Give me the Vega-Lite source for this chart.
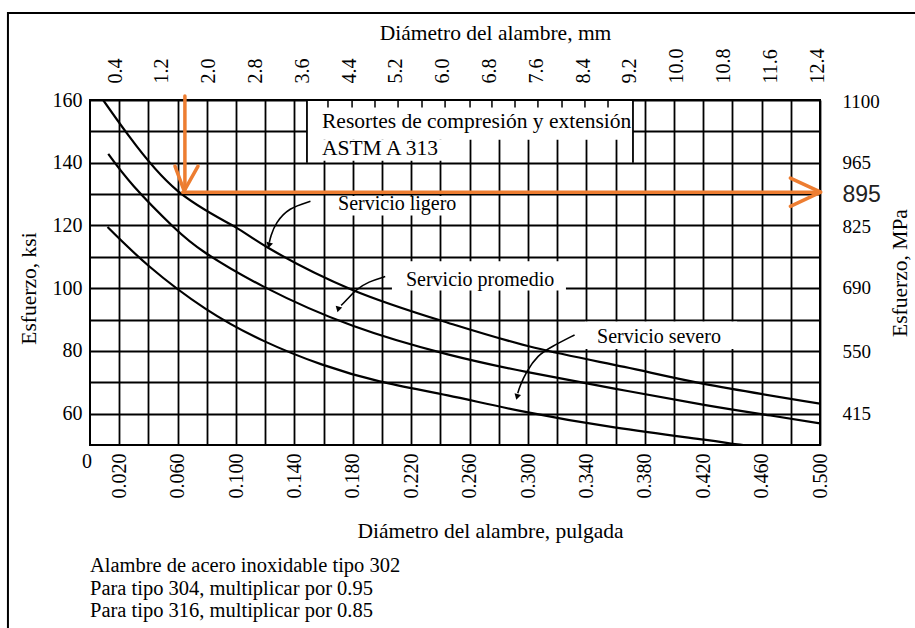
{
  "$schema": "https://vega.github.io/schema/vega-lite/v6.json",
  "width": 730,
  "height": 345,
  "autosize": {"type": "none"},
  "padding": {"left": 90, "top": 100, "right": 95, "bottom": 183},
  "background": "white",
  "config": {
    "view": {"stroke": "#000", "strokeWidth": 2},
    "font": "Liberation Serif",
    "axis": {
      "labelFont": "Liberation Serif",
      "titleFont": "Liberation Serif",
      "labelColor": "#000",
      "titleColor": "#000",
      "titleFontWeight": "normal",
      "labelFontSize": 20,
      "titleFontSize": 21.5,
      "ticks": false,
      "domain": false
    }
  },
  "resolve": {"scale": {"x": "independent", "y": "independent"}, "axis": {"x": "independent", "y": "independent"}},
  "layer": [
    {
      "layer": [
        {
          "data": {"values": [
            {"s": "ligero", "d": 0.009, "k": 160},
            {"s": "ligero", "d": 0.027, "k": 148.3},
            {"s": "ligero", "d": 0.0598, "k": 131.1},
            {"s": "ligero", "d": 0.0984, "k": 119.8},
            {"s": "ligero", "d": 0.1223, "k": 112.8},
            {"s": "ligero", "d": 0.179, "k": 99.6},
            {"s": "ligero", "d": 0.245, "k": 89.0},
            {"s": "ligero", "d": 0.3046, "k": 81.0},
            {"s": "ligero", "d": 0.366, "k": 74.9},
            {"s": "ligero", "d": 0.4206, "k": 69.5},
            {"s": "ligero", "d": 0.5, "k": 63.2},
            {"s": "promedio", "d": 0.0125, "k": 142.8},
            {"s": "promedio", "d": 0.03, "k": 132.5},
            {"s": "promedio", "d": 0.057, "k": 119.6},
            {"s": "promedio", "d": 0.079, "k": 111.3},
            {"s": "promedio", "d": 0.1189, "k": 100.5},
            {"s": "promedio", "d": 0.18, "k": 88.0},
            {"s": "promedio", "d": 0.245, "k": 78.9},
            {"s": "promedio", "d": 0.2989, "k": 73.3},
            {"s": "promedio", "d": 0.3592, "k": 68.0},
            {"s": "promedio", "d": 0.4206, "k": 62.8},
            {"s": "promedio", "d": 0.4661, "k": 59.4},
            {"s": "promedio", "d": 0.5, "k": 56.9},
            {"s": "severo", "d": 0.012, "k": 119.5},
            {"s": "severo", "d": 0.0405, "k": 107.0},
            {"s": "severo", "d": 0.079, "k": 93.5},
            {"s": "severo", "d": 0.1189, "k": 83.2},
            {"s": "severo", "d": 0.1586, "k": 75.7},
            {"s": "severo", "d": 0.1984, "k": 70.3},
            {"s": "severo", "d": 0.245, "k": 65.8},
            {"s": "severo", "d": 0.2955, "k": 60.8},
            {"s": "severo", "d": 0.3592, "k": 55.6},
            {"s": "severo", "d": 0.4206, "k": 51.7},
            {"s": "severo", "d": 0.4434, "k": 50.2},
            {"s": "severo", "d": 0.47, "k": 48.8}
          ]},
          "mark": {"type": "line", "clip": true, "interpolate": "natural", "strokeWidth": 2.2, "color": "#000"},
          "encoding": {
            "x": {
              "field": "d", "type": "quantitative",
              "scale": {"domain": [0, 0.5], "nice": false, "zero": false},
              "axis": {
                "orient": "bottom",
                "values": [0.02, 0.04, 0.06, 0.08, 0.1, 0.12, 0.14, 0.16, 0.18, 0.2, 0.22, 0.24, 0.26, 0.28, 0.3, 0.32, 0.34, 0.36, 0.38, 0.4, 0.42, 0.44, 0.46, 0.48, 0.5],
                "tickCount": 100,
                "labelExpr": "(round(datum.value*1000) % 40 == 20) ? format(datum.value, '.3f') : ''",
                "labelAngle": 270,
                "labelAlign": "right",
                "labelBaseline": "middle",
                "labelPadding": 8,
                "labelOverlap": false,
                "labelFlush": false,
                "grid": true,
                "gridColor": "#000",
                "gridWidth": 1.8,
                "title": "Diámetro del alambre, pulgada",
                "titlePadding": 22,
                "titleX": 400
              }
            },
            "y": {
              "field": "k", "type": "quantitative",
              "scale": {"domain": [50, 160], "nice": false, "zero": false},
              "axis": {
                "orient": "left",
                "values": [60, 70, 80, 90, 100, 110, 120, 130, 140, 150, 160],
                "tickCount": 100,
                "labelExpr": "(datum.value % 20 == 0) ? format(datum.value, 'd') : ''",
                "labelPadding": 8,
                "labelOverlap": false,
                "labelFlush": false,
                "grid": true,
                "gridColor": "#000",
                "gridWidth": 1.8,
                "title": "Esfuerzo, ksi",
                "titlePadding": 12,
                "titleY": 188
              }
            },
            "detail": {"field": "s"}
          }
        },
        {
          "data": {"values": [
            {"x1": 0.1486, "x2": 0.3719, "y1": 159.7, "y2": 147.3},
            {"x1": 0.1486, "x2": 0.2418, "y1": 147.3, "y2": 140.6},
            {"x1": 0.1644, "x2": 0.2548, "y1": 129.4, "y2": 123.2},
            {"x1": 0.2068, "x2": 0.326, "y1": 108.6, "y2": 99.3},
            {"x1": 0.339, "x2": 0.4432, "y1": 89.4, "y2": 80.6}
          ]},
          "mark": {"type": "rect", "fill": "white", "stroke": null},
          "encoding": {
            "x": {"field": "x1", "type": "quantitative"},
            "x2": {"field": "x2"},
            "y": {"field": "y1", "type": "quantitative"},
            "y2": {"field": "y2"}
          }
        },
        {
          "data": {"values": [
            {"d": 0.163}, {"d": 0.1795}, {"d": 0.1952}, {"d": 0.211}, {"d": 0.2274}, {"d": 0.2432}, {"d": 0.2603},
            {"d": 0.2753}, {"d": 0.2911}, {"d": 0.3068}, {"d": 0.3233}, {"d": 0.339}, {"d": 0.3548}
          ]},
          "mark": {"type": "rule", "color": "#000", "strokeWidth": 1.5},
          "encoding": {
            "x": {"field": "d", "type": "quantitative"},
            "y": {"datum": 160, "type": "quantitative"},
            "y2": {"datum": 157.6}
          }
        },
        {
          "data": {"values": [{"d": 0.1486}, {"d": 0.3719}]},
          "mark": {"type": "rule", "color": "#000", "strokeWidth": 1.8},
          "encoding": {
            "x": {"field": "d", "type": "quantitative"},
            "y": {"datum": 160, "type": "quantitative"},
            "y2": {"datum": 140}
          }
        },
        {
          "data": {"values": [
            {"l": "a", "o": 1, "d": 0.151, "k": 127.7},
            {"l": "a", "o": 2, "d": 0.1362, "k": 125.6},
            {"l": "a", "o": 3, "d": 0.1271, "k": 120.8},
            {"l": "a", "o": 4, "d": 0.1237, "k": 116.5},
            {"l": "a", "o": 5, "d": 0.1228, "k": 114.5},
            {"l": "b", "o": 1, "d": 0.2022, "k": 103.7},
            {"l": "b", "o": 2, "d": 0.1908, "k": 102.1},
            {"l": "b", "o": 3, "d": 0.1819, "k": 99.5},
            {"l": "b", "o": 4, "d": 0.176, "k": 96.3},
            {"l": "b", "o": 5, "d": 0.172, "k": 94.5},
            {"l": "c", "o": 1, "d": 0.3319, "k": 85.1},
            {"l": "c", "o": 2, "d": 0.3159, "k": 81.3},
            {"l": "c", "o": 3, "d": 0.3068, "k": 78.7},
            {"l": "c", "o": 4, "d": 0.2988, "k": 73.4},
            {"l": "c", "o": 5, "d": 0.2943, "k": 68.6},
            {"l": "c", "o": 6, "d": 0.293, "k": 66.5}
          ]},
          "mark": {"type": "line", "interpolate": "basis", "strokeWidth": 1.6, "color": "#000"},
          "encoding": {
            "x": {"field": "d", "type": "quantitative"},
            "y": {"field": "k", "type": "quantitative"},
            "detail": {"field": "l"},
            "order": {"field": "o"}
          }
        },
        {
          "data": {"values": [
            {"d": 0.1226, "k": 113.6},
            {"d": 0.1700, "k": 93.2},
            {"d": 0.2925, "k": 65.3}
          ]},
          "mark": {"type": "point", "shape": "triangle-down", "filled": true, "color": "#000", "size": 45, "opacity": 1, "angle": 15},
          "encoding": {
            "x": {"field": "d", "type": "quantitative"},
            "y": {"field": "k", "type": "quantitative"}
          }
        },
        {
          "data": {"values": [
            {"g": "v", "o": 1, "d": 0.065, "k": 161.3},
            {"g": "v", "o": 2, "d": 0.065, "k": 131.5},
            {"g": "vh", "o": 1, "d": 0.0582, "k": 138.9},
            {"g": "vh", "o": 2, "d": 0.0645, "k": 131.0},
            {"g": "vh", "o": 3, "d": 0.074, "k": 138.9},
            {"g": "h", "o": 1, "d": 0.0635, "k": 130.6},
            {"g": "h", "o": 2, "d": 0.5, "k": 130.6},
            {"g": "hh", "o": 1, "d": 0.4797, "k": 135.1},
            {"g": "hh", "o": 2, "d": 0.5005, "k": 130.6},
            {"g": "hh", "o": 3, "d": 0.4797, "k": 126.1}
          ]},
          "mark": {"type": "line", "strokeWidth": 3.5, "color": "#ED7D31", "strokeCap": "round", "strokeJoin": "round"},
          "encoding": {
            "x": {"field": "d", "type": "quantitative"},
            "y": {"field": "k", "type": "quantitative"},
            "detail": {"field": "g"},
            "order": {"field": "o"}
          }
        },
        {
          "data": {"values": [
            {"t": "Resortes de compresión y extensión", "d": 0.1589, "k": 153, "z": 21.5},
            {"t": "ASTM A 313", "d": 0.1589, "k": 144.5, "z": 21.5},
            {"t": "Servicio ligero", "d": 0.1699, "k": 127.0, "z": 20},
            {"t": "Servicio promedio", "d": 0.2164, "k": 102.6, "z": 20},
            {"t": "Servicio severo", "d": 0.3473, "k": 84.3, "z": 20}
          ]},
          "mark": {"type": "text", "align": "left", "baseline": "middle", "font": "Liberation Serif", "color": "#000"},
          "encoding": {
            "x": {"field": "d", "type": "quantitative"},
            "y": {"field": "k", "type": "quantitative"},
            "text": {"field": "t"},
            "size": {"field": "z", "type": "quantitative", "scale": null, "legend": null}
          }
        },
        {
          "data": {"values": [
            {"t": "Alambre de acero inoxidable tipo 302", "d": 0, "k": 11.4},
            {"t": "Para tipo 304, multiplicar por 0.95", "d": 0, "k": 4.2},
            {"t": "Para tipo 316, multiplicar por 0.85", "d": 0, "k": -3.0}
          ]},
          "mark": {"type": "text", "align": "left", "baseline": "middle", "font": "Liberation Serif", "fontSize": 20.5, "color": "#000"},
          "encoding": {
            "x": {"field": "d", "type": "quantitative"},
            "y": {"field": "k", "type": "quantitative"},
            "text": {"field": "t"}
          }
        },
        {
          "data": {"values": [{"t": "0"}]},
          "mark": {"type": "text", "align": "center", "baseline": "middle", "font": "Liberation Serif", "fontSize": 20, "color": "#000", "dy": 17, "dx": -3},
          "encoding": {
            "x": {"datum": 0, "type": "quantitative"},
            "y": {"datum": 50, "type": "quantitative"},
            "text": {"field": "t"}
          }
        },
        {
          "data": {"values": [{"t": "frame"}]},
          "mark": {"type": "rect", "fill": null, "stroke": "#000", "strokeWidth": 2, "clip": false},
          "encoding": {
            "x": {"datum": -0.0562, "type": "quantitative"},
            "x2": {"datum": 0.58},
            "y": {"datum": 187.7, "type": "quantitative"},
            "y2": {"datum": -12.2}
          }
        }
      ]
    },
    {
      "data": {"values": [
        {"mm": 0.4}, {"mm": 1.2}, {"mm": 2.0}, {"mm": 2.8}, {"mm": 3.6}, {"mm": 4.4}, {"mm": 5.2}, {"mm": 6.0},
        {"mm": 6.8}, {"mm": 7.6}, {"mm": 8.4}, {"mm": 9.2}, {"mm": 10.0}, {"mm": 10.8}, {"mm": 11.6}, {"mm": 12.4}
      ]},
      "mark": {"type": "point", "opacity": 0},
      "encoding": {
        "x": {
          "field": "mm", "type": "quantitative",
          "scale": {"domain": [-0.03, 12.45], "nice": false, "zero": false},
          "axis": {
            "orient": "top",
            "values": [0.4, 1.2, 2.0, 2.8, 3.6, 4.4, 5.2, 6.0, 6.8, 7.6, 8.4, 9.2, 10.0, 10.8, 11.6, 12.4],
            "tickCount": 100,
            "labelExpr": "format(datum.value, '.1f')",
            "labelAngle": 270,
            "labelAlign": "left",
            "labelBaseline": "middle",
            "labelPadding": 17,
            "labelOverlap": false,
            "labelFlush": false,
            "grid": false,
            "title": "Diámetro del alambre, mm",
            "titlePadding": 4,
            "titleX": 405
          }
        }
      }
    },
    {
      "data": {"values": [
        {"mpa": 415}, {"mpa": 550}, {"mpa": 690}, {"mpa": 825}, {"mpa": 895}, {"mpa": 965}, {"mpa": 1100}
      ]},
      "mark": {"type": "point", "opacity": 0},
      "encoding": {
        "y": {
          "field": "mpa", "type": "quantitative",
          "scale": {"domain": [344.7, 1103.2], "nice": false, "zero": false},
          "axis": {
            "orient": "right",
            "values": [415, 550, 690, 825, 895, 965, 1100],
            "tickCount": 100,
            "format": "d",
            "labelPadding": 22,
            "labelOverlap": false,
            "labelFlush": false,
            "grid": false,
            "labelFontSize": {"condition": {"test": "datum.value == 895", "value": 23}, "value": 19},
            "labelFont": {"condition": {"test": "datum.value == 895", "value": "Liberation Sans"}, "value": "Liberation Serif"},
            "labelColor": {"condition": {"test": "datum.value == 895", "value": "#222"}, "value": "#000"},
            "title": "Esfuerzo, MPa",
            "titleAngle": 270,
            "titlePadding": 31
          }
        }
      }
    }
  ]
}
